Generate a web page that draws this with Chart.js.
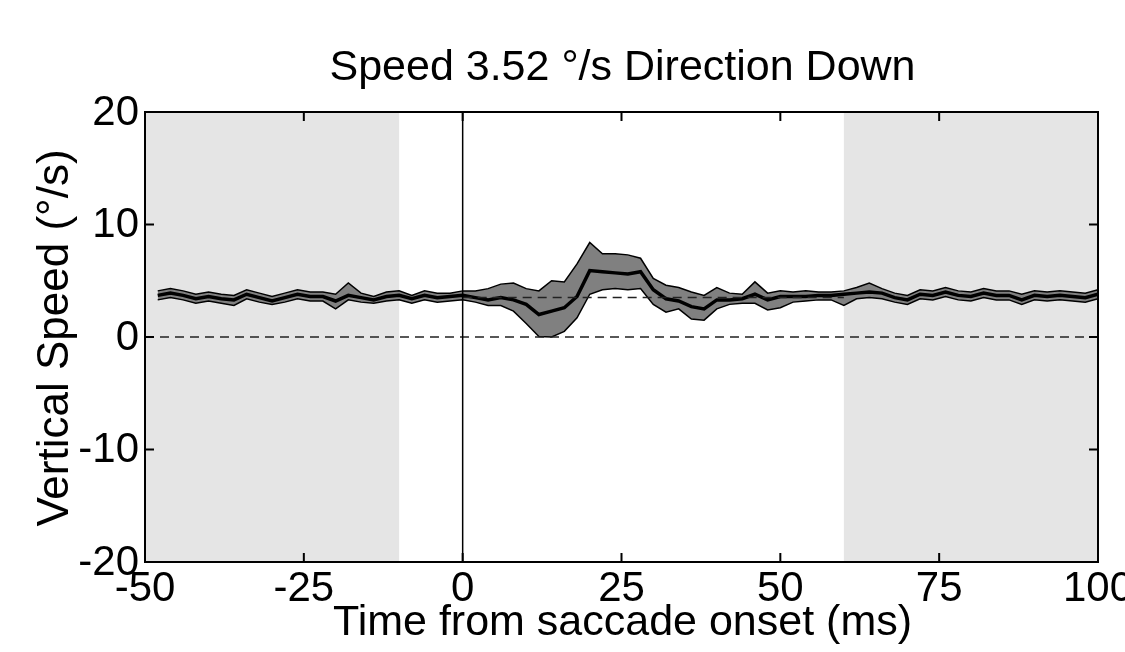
<!DOCTYPE html>
<html>
<head>
<meta charset="utf-8">
<script src="https://cdn.jsdelivr.net/npm/chart.js@4"></script>
<style>
  html, body { margin: 0; padding: 0; background: #fff; }
  #wrap { width: 1125px; height: 652px; }
</style>
</head>
<body>
<div id="wrap"><canvas id="speed"></canvas></div>
<script>
"use strict";

// time from saccade onset (ms)
var times = [-48, -46, -44, -42, -40, -38, -36, -34, -32, -30, -28, -26, -24, -22, -20, -18, -16, -14, -12, -10,
	-8, -6, -4, -2, 0, 2, 4, 6, 8, 10, 12, 14, 16, 18, 20, 22, 24, 26, 28, 30,
	32, 34, 36, 38, 40, 42, 44, 46, 48, 50, 52, 54, 56, 58, 60, 62, 64, 66, 68, 70,
	72, 74, 76, 78, 80, 82, 84, 86, 88, 90, 92, 94, 96, 98, 100];

// mean vertical speed and the band round it
var meanSpeed = [3.7, 3.9, 3.7, 3.4, 3.6, 3.4, 3.3, 3.8, 3.5, 3.2, 3.5, 3.8, 3.6, 3.6, 3.2, 3.7, 3.5, 3.3, 3.6, 3.7,
	3.4, 3.7, 3.5, 3.6, 3.7, 3.5, 3.3, 3.5, 3.3, 2.9, 2.0, 2.3, 2.6, 3.6, 5.9, 5.8, 5.7, 5.6, 5.8, 4.2,
	3.4, 3.2, 2.7, 2.5, 3.3, 3.3, 3.4, 3.8, 3.3, 3.6, 3.6, 3.6, 3.7, 3.7, 3.8, 3.9, 4.0, 3.9, 3.5, 3.3,
	3.8, 3.7, 4.0, 3.7, 3.6, 3.9, 3.7, 3.7, 3.3, 3.7, 3.6, 3.7, 3.6, 3.5, 3.8];
var upperSpeed = [4.1, 4.3, 4.1, 3.8, 4.0, 3.8, 3.7, 4.2, 3.9, 3.6, 3.9, 4.2, 4.0, 4.0, 3.8, 4.8, 3.9, 3.6, 4.0, 4.1,
	3.7, 4.1, 3.9, 3.9, 4.1, 4.1, 4.3, 4.7, 4.8, 4.3, 4.1, 5.0, 4.9, 6.5, 8.4, 7.4, 7.4, 7.3, 7.0, 5.2,
	4.6, 4.4, 4.0, 3.7, 4.4, 3.9, 3.8, 4.9, 3.9, 4.1, 4.0, 4.1, 4.0, 4.0, 4.1, 4.4, 4.8, 4.3, 3.9, 3.7,
	4.2, 4.1, 4.4, 4.1, 4.0, 4.3, 4.1, 4.1, 3.8, 4.1, 4.0, 4.1, 4.0, 3.9, 4.2];
var lowerSpeed = [3.3, 3.5, 3.3, 3.0, 3.2, 3.0, 2.8, 3.4, 3.1, 2.9, 3.1, 3.4, 3.2, 3.2, 2.5, 3.3, 3.1, 3.0, 3.2, 3.3,
	3.0, 3.3, 3.1, 3.2, 3.3, 3.1, 2.8, 2.8, 2.3, 1.2, 0.05, 0.0, 0.5, 1.7, 3.8, 4.2, 4.3, 4.2, 4.3, 2.9,
	2.2, 2.5, 1.6, 1.5, 2.5, 2.9, 3.0, 3.0, 2.4, 2.6, 3.1, 3.2, 3.3, 3.3, 2.8, 3.4, 3.5, 3.4, 3.1, 2.9,
	3.4, 3.3, 3.6, 3.3, 3.2, 3.5, 3.3, 3.3, 2.9, 3.3, 3.2, 3.3, 3.2, 3.1, 3.4];

var baselineSpeed = 3.52;
var baselineRange = [0, 60];
var shadedRanges = [[-50, -10], [60, 100]];

var xTicks = [-50, -25, 0, 25, 50, 75, 100];
var yTicks = [-20, -10, 0, 10, 20];

var FONT = "'Liberation Sans', Arial, sans-serif";

function pts(ys) {
	return times.map(function (t, i) { return {x: t, y: ys[i]}; });
}

// MATLAB style frame: shading, box, inward ticks, labels and titles
var matlabAxes = {
	id: 'matlabAxes',
	beforeDatasetsDraw: function (chart) {
		var ctx = chart.ctx, a = chart.chartArea, xs = chart.scales.x;
		ctx.save();
		ctx.fillStyle = '#e5e5e5';
		shadedRanges.forEach(function (r) {
			var x0 = xs.getPixelForValue(r[0]), x1 = xs.getPixelForValue(r[1]);
			ctx.fillRect(x0, a.top, x1 - x0, a.bottom - a.top);
		});
		ctx.restore();
	},
	afterDraw: function (chart) {
		var ctx = chart.ctx, a = chart.chartArea, xs = chart.scales.x, ys = chart.scales.y;
		var tl = 9;
		ctx.save();
		ctx.strokeStyle = '#000';
		ctx.lineWidth = 2;
		ctx.strokeRect(a.left, a.top, a.right - a.left, a.bottom - a.top);

		ctx.beginPath();
		xTicks.forEach(function (v) {
			var px = xs.getPixelForValue(v);
			ctx.moveTo(px, a.bottom); ctx.lineTo(px, a.bottom - tl);
			ctx.moveTo(px, a.top); ctx.lineTo(px, a.top + tl);
		});
		yTicks.forEach(function (v) {
			var py = ys.getPixelForValue(v);
			ctx.moveTo(a.left, py); ctx.lineTo(a.left + tl, py);
			ctx.moveTo(a.right, py); ctx.lineTo(a.right - tl, py);
		});
		ctx.stroke();

		ctx.fillStyle = '#000';
		ctx.font = '42px ' + FONT;
		ctx.textAlign = 'center';
		ctx.textBaseline = 'top';
		xTicks.forEach(function (v) {
			ctx.fillText(String(v), xs.getPixelForValue(v), a.bottom + 6);
		});
		ctx.textAlign = 'right';
		ctx.textBaseline = 'middle';
		yTicks.forEach(function (v) {
			ctx.fillText(String(v), a.left - 6, ys.getPixelForValue(v) + 1);
		});

		ctx.textAlign = 'center';
		ctx.font = '43px ' + FONT;
		ctx.fillText('Speed 3.52 °/s Direction Down', (a.left + a.right) / 2 + 1, 68);
		ctx.fillText('Time from saccade onset (ms)', (a.left + a.right) / 2 + 1, 623);

		ctx.font = '44px ' + FONT;
		ctx.translate(56, (a.top + a.bottom) / 2 + 1);
		ctx.rotate(-Math.PI / 2);
		ctx.fillText('Vertical Speed (°/s)', 0, 0);
		ctx.restore();
	}
};

var lineChart = new Chart(document.getElementById('speed'), {
	type: 'line',
	data: {
		datasets: [
			{
				label: 'upper',
				data: pts(upperSpeed),
				borderColor: '#000',
				borderWidth: 1.5,
				backgroundColor: '#808080',
				fill: '+1',
				pointRadius: 0,
				tension: 0,
				order: 5
			},
			{
				label: 'lower',
				data: pts(lowerSpeed),
				borderColor: '#000',
				borderWidth: 1.5,
				fill: false,
				pointRadius: 0,
				tension: 0,
				order: 4
			},
			{
				label: 'mean',
				data: pts(meanSpeed),
				borderColor: '#000',
				borderWidth: 3.5,
				fill: false,
				pointRadius: 0,
				tension: 0,
				order: 3
			},
			{
				label: 'zero',
				data: [{x: -50, y: 0}, {x: 100, y: 0}],
				borderColor: '#222',
				borderWidth: 1.5,
				borderDash: [9, 6],
				fill: false,
				pointRadius: 0,
				order: 2
			},
			{
				label: 'baseline',
				data: [{x: baselineRange[0], y: baselineSpeed}, {x: baselineRange[1], y: baselineSpeed}],
				borderColor: '#222',
				borderWidth: 1.5,
				borderDash: [9, 6],
				fill: false,
				pointRadius: 0,
				order: 1
			},
			{
				label: 'onset',
				data: [{x: 0, y: -20}, {x: 0, y: 20}],
				borderColor: '#000',
				borderWidth: 1.5,
				fill: false,
				pointRadius: 0,
				order: 0
			}
		]
	},
	options: {
		responsive: true,
		maintainAspectRatio: false,
		animation: false,
		layout: {
			padding: {left: 145, right: 27, top: 112, bottom: 90}
		},
		plugins: {
			legend: {display: false},
			tooltip: {enabled: false}
		},
		scales: {
			x: {
				type: 'linear',
				min: -50,
				max: 100,
				display: false
			},
			y: {
				type: 'linear',
				min: -20,
				max: 20,
				display: false
			}
		}
	},
	plugins: [matlabAxes]
});
</script>
</body>
</html>
